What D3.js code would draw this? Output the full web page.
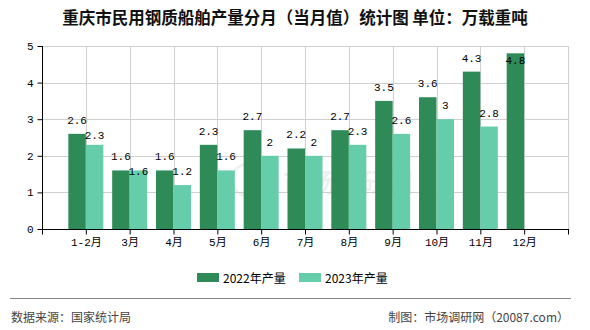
<!DOCTYPE html>
<html>
<head>
<meta charset="utf-8">
<script src="https://cdn.jsdelivr.net/npm/d3@7/dist/d3.min.js"></script>
<style>
  html, body { margin: 0; padding: 0; background: #fff; }
  svg { display: block; }
</style>
</head>
<body>
<svg id="chart" width="590" height="330"></svg>
<script>
const categories = ["1-2月", "3月", "4月", "5月", "6月", "7月", "8月", "9月", "10月", "11月", "12月"];
const series2022 = [2.6, 1.6, 1.6, 2.3, 2.7, 2.2, 2.7, 3.5, 3.6, 4.3, 4.8];
const series2023 = [2.3, 1.6, 1.2, 1.6, 2, 2, 2.3, 2.6, 3, 2.8, null];
const seriesNames = ["2022年产量", "2023年产量"];
const seriesColors = ["#2e8b57", "#66cdaa"];
const yTicks = [0, 1, 2, 3, 4, 5];
const titleText = "重庆市民用钢质船舶产量分月（当月值）统计图 单位：万载重吨";
const sourceText = "数据来源：国家统计局";
const makerText = "制图：市场调研网（20087.com）";

const svg = d3.select("#chart");
const pL = 42, pR = 568, pT = 46, pB = 229;
const monoFont = "'Liberation Mono', 'DejaVu Sans Mono', 'Noto Sans CJK SC', monospace";
const sansFont = "'Noto Sans CJK SC', 'Noto Sans', sans-serif";

const x = d3.scalePoint().domain(categories).range([pL, pR]).padding(1);
const x1 = d3.scaleBand().domain([0, 1]).range([-17.5, 17.5]).padding(0);
const y = d3.scaleLinear().domain([0, 5]).range([pB, pT]);

// title
svg.append("text").attr("x", 295).attr("y", 17).attr("text-anchor", "middle")
  .attr("dominant-baseline", "central").attr("font-family", sansFont)
  .attr("font-size", "16.5px").attr("font-weight", "bold").attr("fill", "#111").text(titleText);

// watermark
const wm = svg.append("g").attr("opacity", 0.06);
wm.append("circle").attr("cx", 248).attr("cy", 180).attr("r", 16).attr("fill", "none").attr("stroke", "#000").attr("stroke-width", 3);
wm.append("text").attr("x", 283).attr("y", 180).attr("dominant-baseline", "central")
  .attr("font-family", sansFont).attr("font-size", "26px").attr("font-weight", "bold").text("市场调研网");

// grid
const grid = svg.append("g").attr("stroke", "#d0d0d0").attr("stroke-width", 1);
grid.selectAll("line.h").data(yTicks.filter(d => d > 0)).join("line")
  .attr("x1", pL).attr("x2", pR)
  .attr("y1", d => Math.round(y(d)) + 0.5).attr("y2", d => Math.round(y(d)) + 0.5);
grid.selectAll("line.v").data(categories).join("line")
  .attr("x1", d => Math.round(x(d)) + 0.5).attr("x2", d => Math.round(x(d)) + 0.5)
  .attr("y1", pT).attr("y2", pB);
grid.append("line").attr("x1", pR + 0.5).attr("x2", pR + 0.5).attr("y1", pT).attr("y2", pB);

// bars
const allSeries = [series2022, series2023];
const barData = [];
categories.forEach((c, i) => {
  allSeries.forEach((s, k) => {
    if (s[i] != null) barData.push({ c, k, v: s[i] });
  });
});
svg.append("g").selectAll("rect").data(barData).join("rect")
  .attr("x", d => x(d.c) + x1(d.k))
  .attr("width", x1.bandwidth())
  .attr("y", d => y(d.v))
  .attr("height", d => y(0) - y(d.v))
  .attr("fill", d => seriesColors[d.k]);

// axes
const yAxis = d3.axisLeft(y).tickValues(yTicks).tickSize(5).tickPadding(4).tickFormat(d3.format("d"));
const gy = svg.append("g").attr("transform", `translate(${pL + 0.5},0)`).call(yAxis);
gy.select(".domain").attr("stroke", "#000").attr("d", `M0,${pT}V${pB + 0.5}`);
gy.selectAll(".tick line").attr("stroke", "#000");
gy.selectAll(".tick text").attr("font-family", monoFont).attr("font-size", "11px").attr("fill", "#000");

const xAxis = d3.axisBottom(x).tickSize(5).tickPadding(4);
const gx = svg.append("g").attr("transform", `translate(0,${pB + 0.5})`).call(xAxis);
gx.select(".domain").attr("stroke", "#000").attr("d", `M${pL},0H${pR + 1}`);
gx.selectAll(".tick line").attr("stroke", "#000");
gx.selectAll(".tick text").attr("font-family", monoFont).attr("font-size", "11px").attr("fill", "#000");
[pL, pR].forEach(px => {
  gx.append("line").attr("x1", px + 0.5).attr("x2", px + 0.5).attr("y1", 0).attr("y2", 5).attr("stroke", "#000");
});

// labels with simple collision handling
const charW = 6.2, labelH = 12;
const labels = barData.map(d => {
  const cx = x(d.c) + x1(d.k) + x1.bandwidth() / 2;
  let cy = y(d.v) - 13;
  if (cy < pT + 8) cy = y(d.v) + 8;
  return { ...d, cx, cy, w: String(d.v).length * charW };
});
categories.forEach(c => {
  const a = labels.find(l => l.c === c && l.k === 0);
  const b = labels.find(l => l.c === c && l.k === 1);
  if (a && b) {
    const hOverlap = Math.abs(a.cx - b.cx) < (a.w + b.w) / 2;
    const vOverlap = Math.abs(a.cy - b.cy) < labelH + 3;
    if (hOverlap && vOverlap) b.cy = a.cy + labelH + 3;
  }
});
svg.append("g").selectAll("text").data(labels).join("text")
  .attr("x", d => d.cx).attr("y", d => d.cy)
  .attr("text-anchor", "middle").attr("dominant-baseline", "central")
  .attr("font-family", monoFont).attr("font-size", "11px").attr("fill", "#000")
  .text(d => d.v);

// legend
const legendX = [197, 299];
const lg = svg.append("g");
seriesNames.forEach((n, k) => {
  lg.append("rect").attr("x", legendX[k]).attr("y", 273).attr("width", 22).attr("height", 9).attr("fill", seriesColors[k]);
  lg.append("text").attr("x", legendX[k] + 26).attr("y", 277.5).attr("dominant-baseline", "central")
    .attr("font-family", sansFont).attr("font-size", "12px").attr("fill", "#000").text(n);
});

// footer
svg.append("line").attr("x1", 10).attr("x2", 571).attr("y1", 298.5).attr("y2", 298.5).attr("stroke", "#888").attr("stroke-width", 1);
svg.append("text").attr("x", 11).attr("y", 316).attr("dominant-baseline", "central")
  .attr("font-family", sansFont).attr("font-size", "12px").attr("fill", "#444").text(sourceText);
svg.append("text").attr("x", 569).attr("y", 316).attr("text-anchor", "end").attr("dominant-baseline", "central")
  .attr("font-family", sansFont).attr("font-size", "12px").attr("fill", "#444").text(makerText);
</script>
</body>
</html>
